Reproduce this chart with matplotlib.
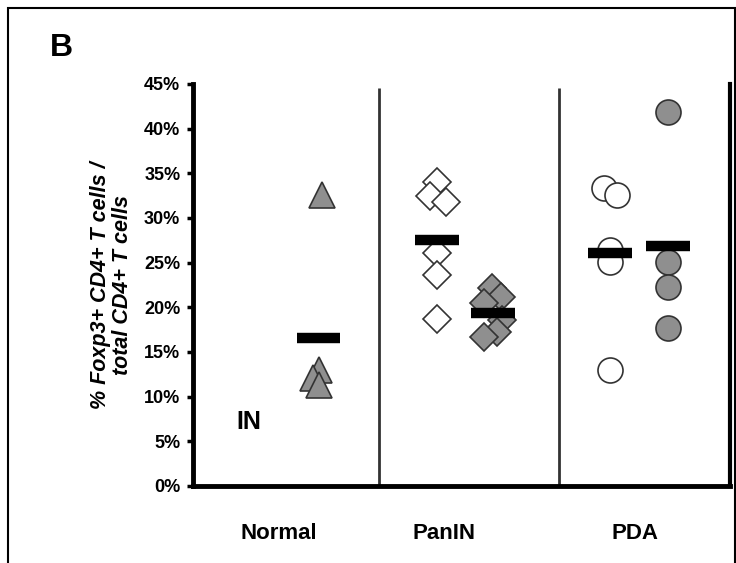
import matplotlib.pyplot as plt
from matplotlib.patches import Rectangle

plt.rcParams['font.family'] = ['Liberation Sans', 'DejaVu Sans']

groups = ["Normal", "PanIN", "PDA"]
yticks = [0, 5, 10, 15, 20, 25, 30, 35, 40, 45]

# values in %
normal_filled = [32.6, 13.0, 12.1, 11.3]
panin_open = [34.0, 32.4, 31.8, 26.1, 23.6, 18.7]
panin_filled = [22.2, 21.1, 20.5, 18.6, 17.2, 16.7]
pda_open = [33.4, 32.6, 26.4, 25.1, 13.0]
pda_filled = [41.9, 25.1, 22.3, 17.7]

means_open = {"PanIN": 27.5, "PDA": 26.1}
means_filled = {"Normal": 16.6, "PanIN": 19.3, "PDA": 26.8}

fig = plt.figure(figsize=(7.36, 5.63), dpi=100)
fig.patches.append(Rectangle((0.011, -0.1), 0.987, 1.086, transform=fig.transFigure,
                             fill=False, edgecolor='black', linewidth=1.5))

ax = fig.add_axes([0.262, 0.137, 0.73, 0.714])
ax.set_xlim(0, 2.95)
ax.set_ylim(0, 45)

grey = '#8f8f8f'
edge = '#333333'

# small horizontal offsets for overlapping points
ax.plot([0.71, 0.69, 0.66, 0.69], normal_filled, '^', ms=19, mfc=grey, mec=edge, mew=1.2, ls='none')
ax.plot([1.34, 1.30, 1.39, 1.34, 1.34, 1.34], panin_open, 'D', ms=14, mfc='white', mec=edge, mew=1.2, ls='none')
ax.plot([1.64, 1.69, 1.60, 1.70, 1.67, 1.60], panin_filled, 'D', ms=14, mfc=grey, mec=edge, mew=1.2, ls='none')
ax.plot([2.26, 2.33, 2.29, 2.29, 2.29], pda_open, 'o', ms=18, mfc='white', mec=edge, mew=1.2, ls='none')
ax.plot([2.61, 2.61, 2.61, 2.61], pda_filled, 'o', ms=18, mfc=grey, mec=edge, mew=1.2, ls='none')

bw = 0.12
ax.hlines(means_filled["Normal"], 0.69 - bw, 0.69 + bw, colors='black', lw=7.5)
ax.hlines(means_open["PanIN"], 1.34 - bw, 1.34 + bw, colors='black', lw=7.5)
ax.hlines(means_filled["PanIN"], 1.65 - bw, 1.65 + bw, colors='black', lw=7.5)
ax.hlines(means_open["PDA"], 2.29 - bw, 2.29 + bw, colors='black', lw=7.5)
ax.hlines(means_filled["PDA"], 2.61 - bw, 2.61 + bw, colors='black', lw=7.5)

# panel dividers
ax.vlines([1.02, 2.01], 0, 44.5, colors='#333333', lw=2)

ax.text(0.31, 7.2, "IN", fontsize=18, fontweight='bold', ha='center', va='center')

ax.spines['top'].set_visible(False)
for s in ['left', 'bottom']:
    ax.spines[s].set_linewidth(3.5)
ax.spines['right'].set_linewidth(3)
ax.set_yticks(yticks)
ax.set_yticklabels([f"{v}%" for v in yticks], fontsize=13, fontweight='bold')
ax.tick_params(axis='y', length=4, width=2.5, pad=5)
ax.set_xticks([0.47, 1.38, 2.43])
ax.set_xticklabels(groups, fontsize=16, fontweight='bold')
ax.tick_params(axis='x', length=0, pad=27)

ax.set_ylabel("% Foxp3+ CD4+ T cells /\ntotal CD4+ T cells", fontsize=15.5,
              fontweight='bold', style='italic', labelpad=8, linespacing=1.05)

fig.text(0.068, 0.915, "B", fontsize=23, fontweight='bold', ha='left', va='center')

fig.savefig("out.png", dpi=100)
